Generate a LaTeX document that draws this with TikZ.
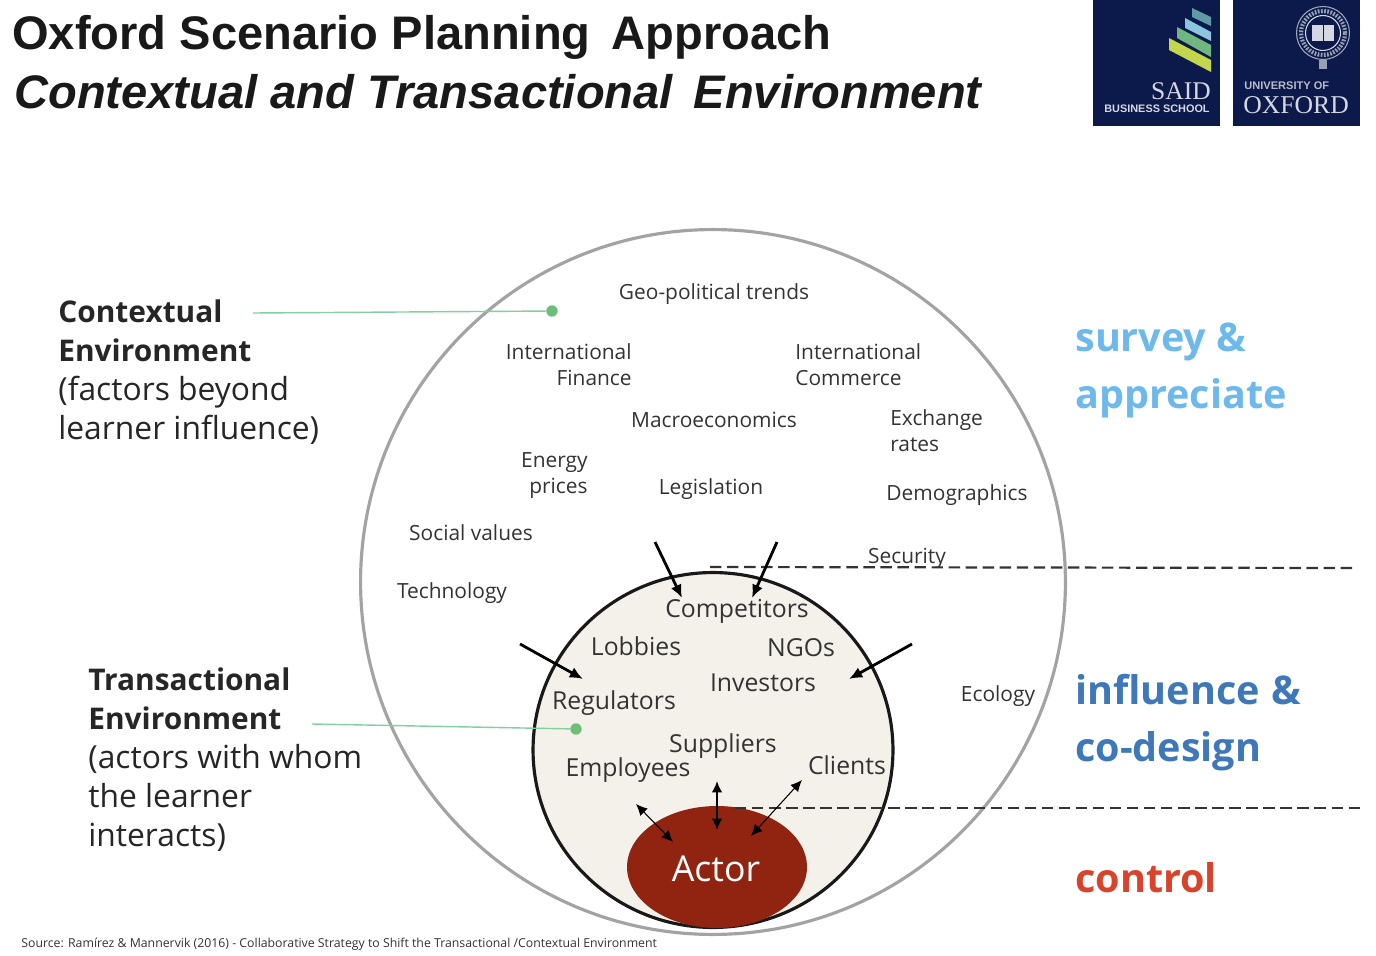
\documentclass[tikz,border=0pt]{standalone}
\usepackage{fontspec}
\setmainfont{Open Sans}
\newfontfamily\titlefont{Liberation Sans}
\newfontfamily\logofont{Liberation Serif}
\usepackage{xcolor}
\usepackage{tikz}
\usetikzlibrary{arrows.meta,positioning,calc,shapes.geometric}
\definecolor{navy}{HTML}{0B1A4A}
\definecolor{textgray}{HTML}{333333}
\definecolor{ringgray}{HTML}{A3A3A3}
\definecolor{cream}{HTML}{F4F1EA}
\definecolor{actorred}{HTML}{912410}
\definecolor{leaf}{HTML}{82CFA0}
\definecolor{leafdot}{HTML}{6DBF78}
\definecolor{surveyblue}{HTML}{6DB9EC}
\definecolor{influenceblue}{HTML}{3F78B9}
\definecolor{controlred}{HTML}{D9432B}
\definecolor{logotext}{HTML}{D5D8E2}
\definecolor{stripeteal}{HTML}{5F9AA5}
\definecolor{stripesky}{HTML}{8CC6DC}
\definecolor{stripegreen}{HTML}{6FB77E}
\definecolor{stripelime}{HTML}{C3D64C}
\newcommand{\headbold}[1]{{\bfseries\fontsize{17}{22.2}\selectfont #1}}
\begin{document}
\begin{tikzpicture}[x=0.02cm,y=-0.02cm,>=Latex,
factor/.style={font=\fontsize{11.9}{15.2}\selectfont,text=textgray,inner sep=0pt,align=left},
factorr/.style={factor,align=right},
actorlab/.style={font=\fontsize{14.1}{17}\selectfont,text=textgray,inner sep=0pt},
side/.style={anchor=north west,font=\fontsize{18.1}{22.2}\selectfont,text=black!85,inner sep=0pt,align=left},
level/.style={anchor=west,font=\bfseries\fontsize{22.5}{32.5}\selectfont,inner sep=0pt,align=left},
push/.style={->,line width=1.6pt,black,>={Latex[length=7.5pt,width=6.5pt]}},
link/.style={<->,line width=0.6pt,black,>={Latex[length=6.5pt,width=6pt]}},
boundary/.style={line width=1.25pt,black!80,dash pattern=on 6.5pt off 3.2pt},
note/.style={line width=0.8pt,leaf},
dot/.style={circle,fill=leafdot,inner sep=0pt,minimum size=6.5pt},
logo/.style={fill=navy,draw=none,minimum width=2.54cm,minimum height=2.52cm,inner sep=0pt}]
\useasboundingbox (0,0) rectangle (1376,956);
% title
\node[anchor=west,inner sep=0pt,font=\titlefont\bfseries\fontsize{26.8}{30}\selectfont,text=black!90] (title) at (12,37) {Oxford Scenario Planning\, Approach};
\node[anchor=west,inner sep=0pt,font=\titlefont\bfseries\itshape\fontsize{26.8}{30}\selectfont,text=black!90] (subtitle) at (14,92) {Contextual and Transactional\, Environment};
% logos
\node[logo] (said) at (1156.5,63) {};
\node[logo] (oxford) at (1296.5,63) {};
\fill[stripeteal] (1192,8) -- (1211,17) -- (1211,26) -- (1192,17) -- cycle;
\fill[stripesky] (1185,18) -- (1211,32) -- (1211,41) -- (1185,28) -- cycle;
\fill[stripegreen] (1177,27) -- (1211,45) -- (1211,57) -- (1177,38) -- cycle;
\fill[stripelime] (1169,38) -- (1211,60) -- (1211,72) -- (1169,50) -- cycle;
\node[anchor=east,inner sep=0pt,text=logotext,font=\logofont\fontsize{14.5}{15}\selectfont] (saidtxt) at (1211,91) {SAID};
\node[anchor=east,inner sep=0pt,text=logotext,font=\titlefont\bfseries\fontsize{6.2}{7}\selectfont] (bschool) at (1210,109) {BUSINESS SCHOOL};
\node[circle,draw=logotext!75!navy,line width=0.6pt,minimum size=1.06cm,inner sep=0pt] (crest) at (1323,33) {};
\node[circle,draw=logotext!70!navy,line width=2.4pt,dash pattern=on 1pt off 0.8pt,minimum size=0.88cm,inner sep=0pt] (crestband) at (1323,33) {};
\node[circle,draw=logotext,line width=0.6pt,minimum size=0.7cm,inner sep=0pt] (crestin) at (1323,33) {};
\fill[logotext] (1312,25) rectangle (1334,41);
\draw[navy,line width=0.5pt] (1323,25) -- (1323,41);
\fill[logotext!70!navy] (1319,60) rectangle (1327,69);
\node[anchor=west,inner sep=0pt,text=logotext!85!navy,font=\titlefont\bfseries\fontsize{6.3}{7}\selectfont] (uniof) at (1244,86) {UNIVERSITY OF};
\node[anchor=west,inner sep=0pt,text=logotext,font=\logofont\fontsize{14.6}{15}\selectfont] (oxtxt) at (1243,105) {OXFORD};
% circles
\node[ellipse,draw=ringgray,line width=1.8pt,minimum width=14.1cm,minimum height=14.1cm,inner sep=0pt] (context) at (713,582) {};
\node[ellipse,draw=black!90,fill=cream,line width=1.8pt,minimum width=7.2cm,minimum height=7.1cm,inner sep=0pt] (trans) at (713,750) {};
\node[ellipse,fill=actorred,draw=none,minimum width=3.6cm,minimum height=2.44cm,inner sep=0pt] (actor) at (717,867) {};
\node[inner sep=0pt,text=white,font=\fontsize{20.3}{22}\selectfont] (actorlabel) at (716,869) {Actor};
% boundaries
\coordinate (bound1a) at (710,567); \coordinate (bound1b) at (1352,568);
\coordinate (bound2a) at (735,808); \coordinate (bound2b) at (1360,808);
\draw[boundary] (bound1a) -- (bound1b);
\draw[boundary] (bound2a) -- (bound2b);
% contextual factors
\node[factor] (geo) at (714,294) {Geo-political trends};
\node[factorr,anchor=north east] (finance) at (632,343) {International\\Finance};
\node[factor,anchor=north west] (commerce) at (795,343) {International\\Commerce};
\node[factor] (macro) at (714,420) {Macroeconomics};
\node[factor,anchor=north west] (rates) at (890,409) {Exchange\\rates};
\node[factorr,anchor=north east] (energy) at (588,452) {Energy\\prices};
\node[factor] (legis) at (711,489) {Legislation};
\node[factor] (demog) at (957,495) {Demographics};
\node[factor] (social) at (471,533) {Social values};
\node[factor] (secur) at (907,558) {Security};
\node[factor] (tech) at (452,593) {Technology};
\node[factor] (ecology) at (998,696) {Ecology};
% transactional actors
\node[actorlab] (compet) at (737,611) {Competitors};
\node[actorlab] (lobbies) at (636,646) {Lobbies};
\node[actorlab] (ngos) at (801,648) {NGOs};
\node[actorlab] (invest) at (763,683) {Investors};
\node[actorlab] (regul) at (614,703) {Regulators};
\node[actorlab] (suppl) at (723,746) {Suppliers};
\node[actorlab] (employ) at (628,770) {Employees};
\node[actorlab] (clients) at (847,765) {Clients};
% arrows
\coordinate (p1a) at (655,542); \coordinate (p1b) at (682,598);
\coordinate (p2a) at (777,542); \coordinate (p2b) at (752,598);
\coordinate (p3a) at (520,644); \coordinate (p3b) at (583,679);
\coordinate (p4a) at (912,644); \coordinate (p4b) at (849,679);
\draw[push] (p1a) -- (p1b);
\draw[push] (p2a) -- (p2b);
\draw[push] (p3a) -- (p3b);
\draw[push] (p4a) -- (p4b);
\coordinate (l1a) at (636,804); \coordinate (l1b) at (673,842);
\coordinate (l2a) at (717,781); \coordinate (l2b) at (717,830);
\coordinate (l3a) at (802,780); \coordinate (l3b) at (751,836);
\draw[link] (l1a) -- (l1b);
\draw[link,line width=1pt] (l2a) -- (l2b);
\draw[link] (l3a) -- (l3b);
% left notes
\node[side] (ctxnote) at (58,299) {\headbold{Contextual}\\\headbold{Environment}\\(factors beyond\\learner influence)};
\node[side] (trnote) at (88,667) {\headbold{Transactional}\\\headbold{Environment}\\(actors with whom\\the learner\\interacts)};
\coordinate (ctxstart) at (253,313);
\coordinate (trstart) at (312,724);
\node[dot] (ctxdot) at (552,311) {};
\node[dot] (trdot) at (576,729) {};
\draw[note] (ctxstart) -- (ctxdot);
\draw[note] (trstart) -- (trdot);
% right side
\node[level,text=surveyblue] (survey) at (1075,370) {survey \&\\appreciate};
\node[level,text=influenceblue] (influence) at (1075,723) {influence\hspace{1pt} \&\\co-design};
\node[level,text=controlred] (control) at (1075,878) {control};
% source
\node[anchor=west,inner sep=0pt,text=textgray,font=\fontsize{7}{8}\selectfont] (source) at (21,944) {Source: Ramírez \& Mannervik (2016) - Collaborative Strategy to Shift the Transactional /Contextual Environment};
\end{tikzpicture}
\end{document}
